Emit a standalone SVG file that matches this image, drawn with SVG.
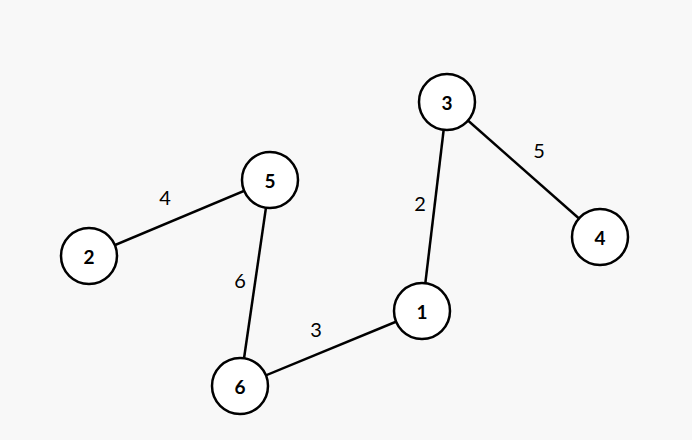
<svg xmlns="http://www.w3.org/2000/svg" width="692" height="440" viewBox="0 0 692 440">
<style>
.n circle{fill:#fff;stroke:#000;stroke-width:2.5}
.n text{font-family:Lato,"Open Sans",sans-serif;font-weight:bold;font-size:19px;fill:#000;text-anchor:middle;dominant-baseline:central}
.e line{stroke:#000;stroke-width:2.5}
.e text{font-family:Lato,"Open Sans",sans-serif;font-size:20px;fill:#000;text-anchor:middle;dominant-baseline:central}
</style>
<rect width="692" height="440" fill="#f8f8f8"/>
<g id="edges" class="e">
<line x1="447" y1="102" x2="422" y2="311"/>
<line x1="447" y1="102" x2="600" y2="237"/>
<line x1="270" y1="180" x2="89" y2="256"/>
<line x1="270" y1="180" x2="240" y2="386"/>
<line x1="422" y1="311" x2="240" y2="386"/>
<text x="420" y="203">2</text>
<text x="539" y="150">5</text>
<text x="165" y="197">4</text>
<text x="240" y="280">6</text>
<text x="316" y="329">3</text>
</g>
<g id="n3" class="n"><circle cx="447" cy="102" r="28"/><text x="447" y="102">3</text></g>
<g id="n5" class="n"><circle cx="270" cy="180" r="28"/><text x="270" y="180">5</text></g>
<g id="n2" class="n"><circle cx="89" cy="256" r="28"/><text x="89" y="256">2</text></g>
<g id="n4" class="n"><circle cx="600" cy="237" r="28"/><text x="600" y="237">4</text></g>
<g id="n1" class="n"><circle cx="422" cy="311" r="28"/><text x="422" y="311">1</text></g>
<g id="n6" class="n"><circle cx="240" cy="386" r="28"/><text x="240" y="386">6</text></g>
</svg>
